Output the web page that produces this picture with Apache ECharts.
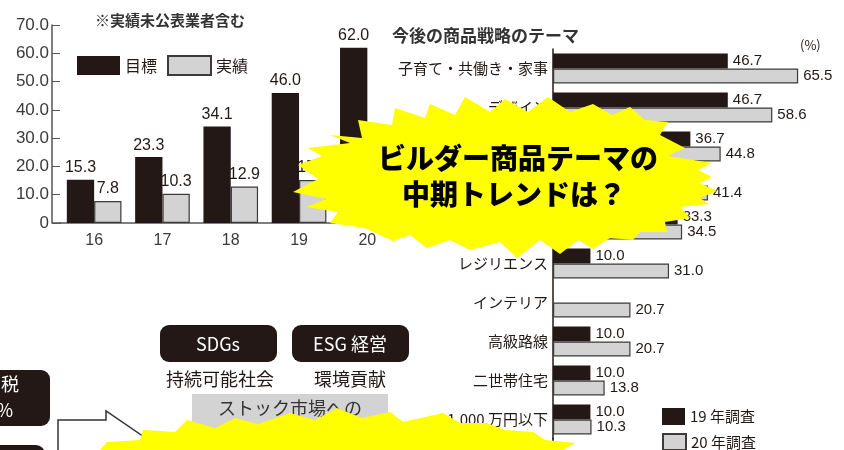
<!DOCTYPE html>
<html><head><meta charset="utf-8">
<script src="https://cdn.jsdelivr.net/npm/echarts/dist/echarts.min.js"></script>
<style>html,body{margin:0;padding:0;background:#fff}#c{width:844px;height:450px}</style>
</head><body><div id="c"></div>
<script>
// ---- left chart data ----
const years = ['16', '17', '18', '19', '20'];
const targetVals = [15.3, 23.3, 34.1, 46.0, 62.0];     // 目標
const actualVals = [7.8, 10.3, 12.9, 15.2, null];      // 実績 (20 hidden)
// ---- right chart data ----
const themes = ['子育て・共働き・家事', 'デザイン', '省エネ・ZEH', '健康・快適', 'IoT・スマートホーム',
  'レジリエンス', 'インテリア', '高級路線', '二世帯住宅', '1,000 万円以下'];
const survey19 = [46.7, 46.7, 36.7, null, 33.3, 10.0, null, 10.0, 10.0, 10.0];
const survey20 = [65.5, 58.6, 44.8, 41.4, 34.5, 31.0, 20.7, 20.7, 13.8, 10.3];

const INK = '#231815', GRAY = '#d3d3d3', EDGE = '#3e3a39', YEL = '#ffff00';
const JP = '"Noto Sans CJK JP", sans-serif';
const NUM = '"Liberation Sans", Arial, sans-serif';

const chart = echarts.init(document.getElementById('c'), null, {renderer: 'canvas'});

const mainBurst = [[330,135],[362,138],[358,120],[392,125],[395,108],[425,118],[430,104],[455,115],[465,97],[490,112],[505,99],[528,112],[548,97],[570,112],[593,104],[612,115],[630,107],[645,120],[668,122],[660,135],[685,148],[668,156],[712,163],[698,170],[712,177],[700,183],[717,191],[700,198],[709,204],[680,207],[690,218],[665,222],[667,232],[640,232],[633,240],[610,238],[593,249],[578,240],[560,254],[540,240],[517,258],[500,242],[470,250],[450,240],[427,248],[410,235],[393,241],[365,228],[330,223],[338,212],[306,207],[326,199],[293,192],[318,179],[298,165],[322,156],[308,148],[350,143]];
const lowBurst = [[95,460],[100,450],[107,442],[140,440],[143,430],[175,432],[187,420],[215,428],[235,418],[258,424],[290,413],[315,420],[337,408],[362,418],[390,412],[403,422],[443,413],[460,423],[487,423],[505,430],[533,432],[545,440],[575,443],[560,452],[565,460]];

const fmt1 = p => (p.value == null ? '' : Number(p.value).toFixed(1));
const legendBase = {padding: 0, icon: 'rect', textStyle: {fontSize: 15, color: INK, fontFamily: JP}};

chart.setOption({
  animation: false,
  textStyle: {fontFamily: NUM},
  grid: [
    {left: 60, top: 25, width: 341.5, height: 198, containLabel: false},
    {left: 553, top: 49, width: 262, height: 390, containLabel: false}
  ],
  legend: [
    {data: ['目標', '実績'], left: 77, top: 55, padding: 0, itemWidth: 43, itemHeight: 19, itemGap: 10,
     icon: 'rect', textStyle: {fontSize: 16, color: INK, fontFamily: JP}},
    Object.assign({data: ['19 年調査'], left: 662, top: 408, itemWidth: 23, itemHeight: 17}, legendBase),
    Object.assign({data: ['20 年調査'], left: 662, top: 433, itemWidth: 23, itemHeight: 16}, legendBase)
  ],
  xAxis: [
    {type: 'category', gridIndex: 0, data: years,
     axisLine: {lineStyle: {color: '#555', width: 1.5}},
     axisTick: {inside: true, length: 5, lineStyle: {color: '#555'}},
     axisLabel: {fontSize: 16, color: '#3a3a3a', margin: 10, fontFamily: NUM}},
    {type: 'value', gridIndex: 1, min: 0, max: 70, show: false}
  ],
  yAxis: [
    {type: 'value', gridIndex: 0, min: 0, max: 70, interval: 10, offset: 8,
     axisLine: {show: true, lineStyle: {color: '#555', width: 1.5}},
     axisTick: {show: true, inside: true, length: 8, lineStyle: {color: '#555'}},
     splitLine: {show: false},
     axisLabel: {fontSize: 17, color: '#3a3a3a', margin: 3, fontFamily: NUM,
       formatter: v => (v === 0 ? '0' : v.toFixed(1))}},
    {type: 'category', gridIndex: 1, data: themes, inverse: true,
     axisLine: {show: true, lineStyle: {color: INK, width: 1.5}},
     axisTick: {show: false},
     axisLabel: {fontSize: 15, color: INK, margin: 5, fontFamily: JP}}
  ],
  series: [
    {name: '目標', type: 'bar', xAxisIndex: 0, yAxisIndex: 0, data: targetVals,
     barGap: '0%', barCategoryGap: '20%',
     itemStyle: {color: INK},
     label: {show: true, position: 'top', distance: 4, fontSize: 16, color: INK, fontFamily: NUM, formatter: fmt1}},
    {name: '実績', type: 'bar', xAxisIndex: 0, yAxisIndex: 0, data: actualVals,
     barGap: '0%', barCategoryGap: '20%',
     itemStyle: {color: GRAY, borderColor: EDGE, borderWidth: 1.2},
     label: {show: true, position: 'top', distance: 4, fontSize: 16, color: INK, fontFamily: NUM, formatter: fmt1}},
    {name: '19 年調査', type: 'bar', xAxisIndex: 1, yAxisIndex: 1, data: survey19,
     barGap: '0%', barCategoryGap: '23%',
     itemStyle: {color: INK},
     label: {show: true, position: 'right', distance: 5, fontSize: 15, color: INK, fontFamily: NUM, formatter: fmt1}},
    {name: '20 年調査', type: 'bar', xAxisIndex: 1, yAxisIndex: 1, data: survey20,
     barGap: '0%', barCategoryGap: '23%',
     itemStyle: {color: GRAY, borderColor: EDGE, borderWidth: 1.2},
     label: {show: true, position: 'right', distance: 5, fontSize: 15, color: INK, fontFamily: NUM, formatter: fmt1}}
  ],
  graphic: [
    {type: 'line', shape: {x1: 52, y1: 223, x2: 61, y2: 223}, style: {stroke: '#555', lineWidth: 1.5}},
    {type: 'line', shape: {x1: 553, y1: 438, x2: 553, y2: 452}, style: {stroke: INK, lineWidth: 1.5}},
    {type: 'text', x: 95, y: 20, style: {text: '※実績未公表業者含む', font: 'bold 15px ' + JP, fill: '#333', textVerticalAlign: 'middle'}},
    {type: 'text', x: 392, y: 36, style: {text: '今後の商品戦略のテーマ', font: 'bold 17px ' + JP, fill: '#333', textVerticalAlign: 'middle'}},
    {type: 'text', x: 800, y: 45, style: {text: '(%)', font: '13px ' + JP, fill: INK, textVerticalAlign: 'middle'}},
    // bottom-left decorations
    {type: 'rect', shape: {x: -20, y: 370, width: 70, height: 56, r: 9}, style: {fill: INK}},
    {type: 'text', x: 19, y: 384, style: {text: '消費税', font: '18px ' + JP, fill: '#fff', textAlign: 'right', textVerticalAlign: 'middle'}},
    {type: 'text', x: 13, y: 410, style: {text: '10%', font: '18px ' + JP, fill: '#fff', textAlign: 'right', textVerticalAlign: 'middle'}},
    {type: 'rect', shape: {x: -20, y: 445, width: 65, height: 30, r: 9}, style: {fill: INK}},
    {type: 'polygon', shape: {points: [[58,470],[58,420],[106,420],[106,411],[147,439],[106,468]]}, style: {fill: '#fff', stroke: '#333', lineWidth: 1.5}},
    {type: 'rect', shape: {x: 160, y: 325, width: 117, height: 37, r: 9}, style: {fill: INK}},
    {type: 'text', x: 218, y: 344, style: {text: 'SDGs', font: '18px ' + JP, fill: '#fff', textAlign: 'center', textVerticalAlign: 'middle'}},
    {type: 'rect', shape: {x: 292, y: 325, width: 117, height: 37, r: 9}, style: {fill: INK}},
    {type: 'text', x: 350, y: 344, style: {text: 'ESG 経営', font: '18px ' + JP, fill: '#fff', textAlign: 'center', textVerticalAlign: 'middle'}},
    {type: 'text', x: 220, y: 379, style: {text: '持続可能社会', font: '18px ' + JP, fill: INK, textAlign: 'center', textVerticalAlign: 'middle'}},
    {type: 'text', x: 350, y: 379, style: {text: '環境貢献', font: '18px ' + JP, fill: INK, textAlign: 'center', textVerticalAlign: 'middle'}},
    {type: 'rect', shape: {x: 192, y: 394, width: 196, height: 60}, style: {fill: GRAY}},
    {type: 'text', x: 290, y: 408, style: {text: 'ストック市場への', font: '18px ' + JP, fill: '#333', textAlign: 'center', textVerticalAlign: 'middle'}},
    // starbursts
    {type: 'polygon', z: 100, shape: {points: lowBurst}, style: {fill: YEL}},
    {type: 'polygon', z: 100, shape: {points: mainBurst}, style: {fill: YEL}},
    {type: 'text', z: 101, x: 518, y: 158, style: {text: 'ビルダー商品テーマの', font: '900 28px ' + JP, fill: '#000', textAlign: 'center', textVerticalAlign: 'middle'}},
    {type: 'text', z: 101, x: 514, y: 194, style: {text: '中期トレンドは？', font: '900 28px ' + JP, fill: '#000', textAlign: 'center', textVerticalAlign: 'middle'}}
  ]
});
</script>
</body></html>
